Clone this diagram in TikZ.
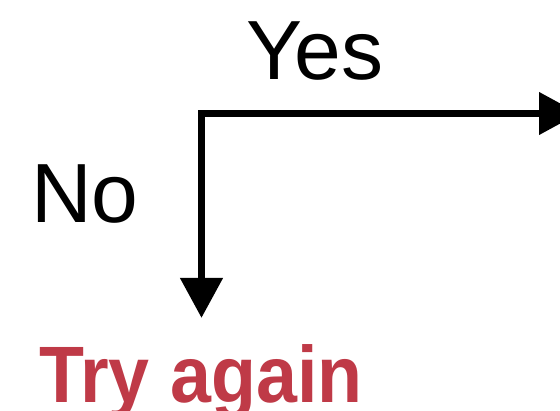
\documentclass[tikz,border=0pt]{standalone}
\usepackage{fontspec}
\setmainfont{Liberation Sans}
\usetikzlibrary{arrows.meta}
\definecolor{againred}{RGB}{191,58,71}

\tikzset{
  answer/.style={font=\fontsize{84}{84}\selectfont, inner sep=0pt, anchor=base},
  flow/.style={line width=7.5pt, line join=miter, {Triangle[length=40pt,width=41pt]}-{Triangle[length=40pt,width=41pt]}}
}

\begin{document}
\begin{tikzpicture}[x=1pt, y=-1pt]
    \useasboundingbox (0,0) rectangle (560,411);
    \clip (0,0) rectangle (560,411);
    \node[answer] (yes) at (315,80) {Yes};
    \node[answer] (no) at (85,223) {No};
    \node[answer, font=\fontsize{80}{80}\selectfont\bfseries, text=againred] (again) at (201,403) {\scalebox{0.92}[1]{Try again}};
    % branch corner and arrow ends
    \coordinate (corner) at (201.5,113.5);
    \coordinate (yesend) at (579,113.5);
    \coordinate (noend) at (201.5,318);
    \draw[flow] (noend) -- (corner) -- (yesend);
  \end{tikzpicture}
\end{document}
